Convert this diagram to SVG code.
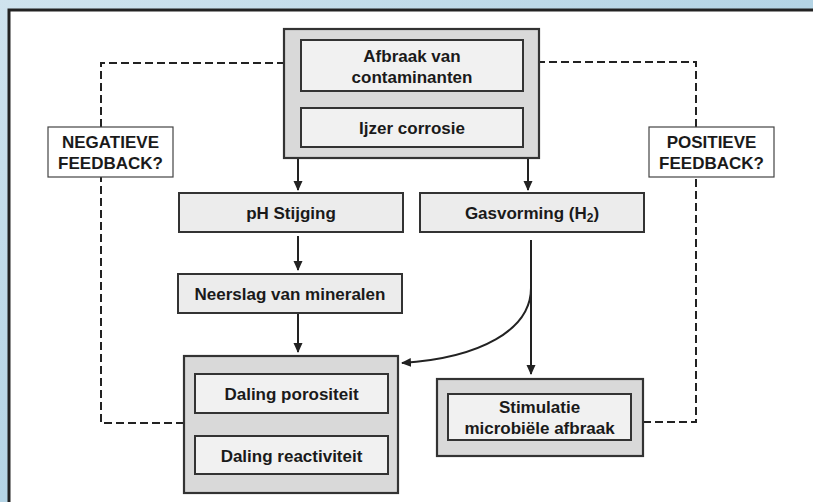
<svg xmlns="http://www.w3.org/2000/svg" width="813" height="502" viewBox="0 0 813 502">
<defs>
<linearGradient id="bg" x1="0" y1="0" x2="1" y2="1">
<stop offset="0" stop-color="#cfe3ee"/>
<stop offset="0.5" stop-color="#b4d4e5"/>
<stop offset="1" stop-color="#c8e0ec"/>
</linearGradient>
<marker id="ah" viewBox="0 0 10 10" refX="9" refY="5" markerWidth="10" markerHeight="10" markerUnits="userSpaceOnUse" orient="auto">
<path d="M0,0.5 L10,5 L0,9.5 z" fill="#222"/>
</marker>
<style>
.outer{fill:#d9d9d9;stroke:#333;stroke-width:2.2}
.inner{fill:#f1f1f1;stroke:#333;stroke-width:2}
.plain{fill:#ececec;stroke:#333;stroke-width:2}
.lbl{fill:#fff;stroke:#444;stroke-width:1.2}
text{font-family:"Liberation Sans",Arial,sans-serif;font-weight:bold;font-size:17px;fill:#1a1a1a;text-anchor:middle}
.solid{fill:none;stroke:#222;stroke-width:2}
.dash{fill:none;stroke:#222;stroke-width:2;stroke-dasharray:8 4}
</style>
</defs>
<rect x="0" y="0" width="813" height="502" fill="url(#bg)"/>
<rect x="9" y="10" width="820" height="510" fill="#fff" stroke="#222" stroke-width="3"/>

<g id="connectors">
<path class="dash" d="M184,423 H101 V177"/>
<path class="dash" d="M101,127 V63 H298" marker-end="url(#ah)"/>
<path class="dash" d="M643,422 H696 V177"/>
<path class="dash" d="M696,127 V62 H525" marker-end="url(#ah)"/>
<path class="solid" d="M298,158 V190" marker-end="url(#ah)"/>
<path class="solid" d="M528,158 V190" marker-end="url(#ah)"/>
<path class="solid" d="M298,236 V270" marker-end="url(#ah)"/>
<path class="solid" d="M298,313 V352" marker-end="url(#ah)"/>
<path class="solid" d="M531,240 V374" marker-end="url(#ah)"/>
<path class="solid" d="M531,288 C531,330 480,358 402,363" marker-end="url(#ah)"/>
</g>

<g id="top-group">
<rect class="outer" x="284" y="29" width="255" height="129"/>
</g>
<g id="afbraak">
<rect class="inner" x="301" y="40" width="222" height="51"/>
<text x="412" y="62">Afbraak van</text>
<text x="412" y="83">contaminanten</text>
</g>
<g id="ijzer">
<rect class="inner" x="301" y="108" width="222" height="39"/>
<text x="412" y="133.5">Ijzer corrosie</text>
</g>

<g id="ph">
<rect class="plain" x="179" y="193" width="224" height="39"/>
<text x="291" y="219">pH Stijging</text>
</g>
<g id="gas">
<rect class="plain" x="420" y="193" width="224" height="39"/>
<text x="532" y="219">Gasvorming (H<tspan font-size="12" dy="3">2</tspan><tspan dy="-3">)</tspan></text>
</g>
<g id="neerslag">
<rect class="plain" x="178" y="274" width="224" height="39"/>
<text x="290" y="300">Neerslag van mineralen</text>
</g>

<g id="bottom-left-group">
<rect class="outer" x="184" y="356" width="214" height="137"/>
</g>
<g id="porositeit">
<rect class="inner" x="195" y="374" width="193" height="39"/>
<text x="291.5" y="400">Daling porositeit</text>
</g>
<g id="reactiviteit">
<rect class="inner" x="195" y="436" width="193" height="38"/>
<text x="291.5" y="461.5">Daling reactiviteit</text>
</g>

<g id="stimulatie-group">
<rect class="outer" x="437" y="379" width="206" height="77"/>
</g>
<g id="stimulatie">
<rect class="inner" x="448" y="394" width="183" height="46"/>
<text x="539.5" y="413">Stimulatie</text>
<text x="539.5" y="434">microbiële afbraak</text>
</g>

<g id="negatieve">
<rect class="lbl" x="48" y="127" width="125" height="50"/>
<text x="110.5" y="148">NEGATIEVE</text>
<text x="110.5" y="169">FEEDBACK?</text>
</g>
<g id="positieve">
<rect class="lbl" x="649" y="127" width="125" height="50"/>
<text x="711.5" y="148">POSITIEVE</text>
<text x="711.5" y="169">FEEDBACK?</text>
</g>
</svg>
